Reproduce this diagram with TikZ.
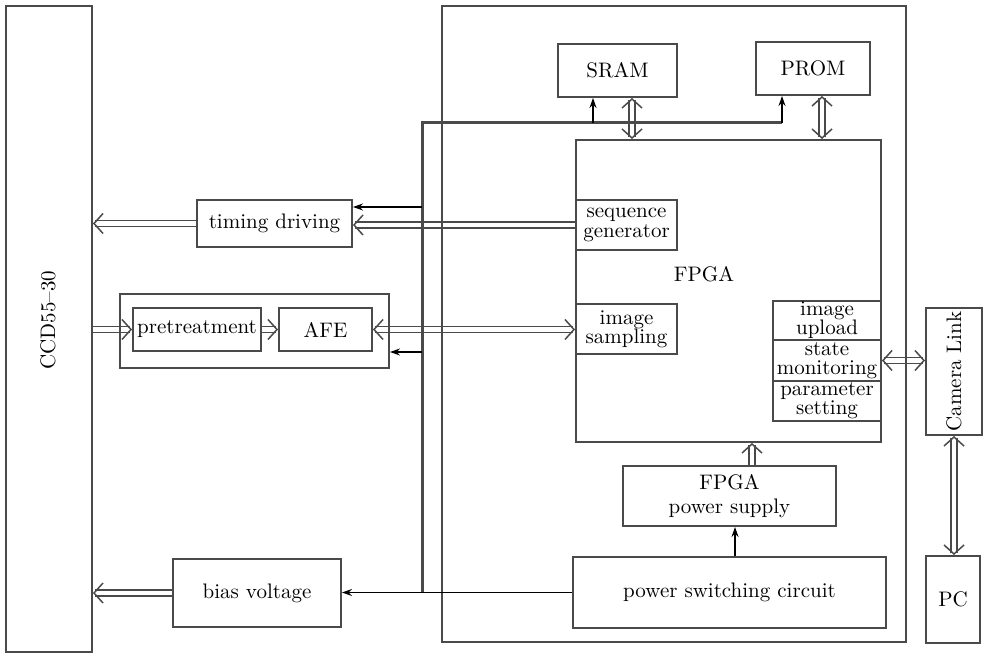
\documentclass[tikz,border=0pt]{standalone}
\usetikzlibrary{positioning, arrows.meta, calc, backgrounds}
\definecolor{linegray}{HTML}{4A4A4A}
\tikzset{blk/.style={draw=linegray,line width=1pt,inner sep=0pt,align=center,font=\fontsize{10.5}{12}\selectfont}}
\tikzset{txt/.style={inner sep=0pt,align=center,font=\fontsize{10.5}{12}\selectfont}}
\tikzset{small/.style={blk,font=\fontsize{10.5}{9.6}\selectfont}}
\tikzset{hd/.tip={Straight Barb[length=4.5pt,width=10pt,line width=0.75pt]}}
\tikzset{hollow/.style={draw=linegray,double=white,double distance=2.4pt,line width=0.75pt,-hd}}
\tikzset{bihollow/.style={hollow,hd-hd}}
\tikzset{sig/.style={draw=black,line width=0.6pt,-{Stealth[length=5pt,width=3.5pt]}}}
\tikzset{bus/.style={draw=linegray,line width=1.5pt}}

\begin{document}
\begin{tikzpicture}[x=0.5pt,y=-0.5pt]
	\useasboundingbox (0,0) rectangle (983,656);
	% Draw the blocks
	\node[blk, minimum width=43pt, minimum height=323pt] (ccd) at (49,329) {};
	\node[txt, rotate=90] (ccdtext) at (48,320) {CCD55--30};
	\node[blk, minimum width=232pt, minimum height=318pt] (board) at (674,324) {};
	\node[blk, minimum width=77.5pt, minimum height=23.5pt] (timing) at (274.5,223.5) {timing driving};
	\node[blk, minimum width=134.5pt, minimum height=37pt] (group) at (254.5,331) {};
	\node[blk, minimum width=64pt, minimum height=21.5pt] (pre) at (197,329.5) {pretreatment};
	\node[blk, minimum width=46.5pt, minimum height=21.5pt] (afe) at (325.5,329.5) {AFE};
	\node[blk, minimum width=84pt, minimum height=34pt] (bias) at (257,593) {bias voltage};
	\node[blk, minimum width=59.5pt, minimum height=26.5pt] (sram) at (617.5,70.5) {SRAM};
	\node[blk, minimum width=57pt, minimum height=26.5pt] (prom) at (813,68.5) {PROM};
	\node[blk, minimum width=152.5pt, minimum height=151pt] (fpga) at (728.5,291) {};
	\node[txt] (fpgatext) at (704,274) {FPGA};
	\node[small, minimum width=50.5pt, minimum height=25pt] (seq) at (626.5,225) {sequence\\generator};
	\node[small, minimum width=50.5pt, minimum height=25pt] (samp) at (626.5,329) {image\\sampling};
	\node[small, minimum width=54pt, minimum height=19.5pt] (upload) at (827,320.5) {image\\upload};
	\node[small, minimum width=54pt, minimum height=20.5pt] (monit) at (827,360.5) {state\\monitoring};
	\node[small, minimum width=54pt, minimum height=20pt] (param) at (827,401) {parameter\\setting};
	\node[blk, minimum width=28pt, minimum height=63.5pt] (cam) at (954,371.5) {};
	\node[txt, rotate=90] (camtext) at (954,371.5) {Camera Link};
	\node[blk, minimum width=27pt, minimum height=43.5pt] (pc) at (953,599.5) {PC};
	\node[blk, minimum width=106.5pt, minimum height=30pt] (fps) at (729.5,496) {FPGA\\power supply};
	\node[blk, minimum width=156.5pt, minimum height=35.5pt] (psw) at (729.5,592.5) {power switching circuit};
	% Draw the control bus
	\coordinate (busT) at (422,123);
	\coordinate (busB) at (422,593);
	\coordinate (busS) at (593,123);
	\coordinate (busR) at (782,123);
	\coordinate (tapA) at (422,207);
	\coordinate (tapB) at (422,352);
	\draw[bus] (busB) -- (busT) -- (busR);
	\draw[sig] (busS) -- (busS |- sram.south);
	\draw[sig] (busR) -- (busR |- prom.south);
	\draw[sig] (tapA) -- (tapA -| timing.east);
	\draw[sig] (tapB) -- (tapB -| group.east);
	\draw[sig] (psw.west) -- (psw.west -| bias.east);
	\draw[sig] ([xshift=2.75pt]psw.north) -- ([xshift=2.75pt]psw.north |- fps.south);
	% Draw the data arrows
	\begin{scope}[on background layer]
	\draw[hollow] (timing.west) -- (timing.west -| ccd.east);
	\draw[hollow] (seq.west) -- (seq.west -| timing.east);
	\draw[hollow] (ccd.east |- pre.west) -- (pre.west);
	\draw[hollow] (pre.east) -- (afe.west);
	\draw[bihollow] (afe.east) -- (afe.east -| samp.west);
	\draw[hollow] (bias.west) -- (bias.west -| ccd.east);
	\draw[bihollow] ([xshift=7.25pt]sram.south) -- ([xshift=7.25pt]sram.south |- fpga.north);
	\draw[bihollow] ([xshift=4.5pt]prom.south) -- ([xshift=4.5pt]prom.south |- fpga.north);
	\draw[hollow] ([xshift=11.25pt]fps.north) -- ([xshift=11.25pt]fps.north |- fpga.south);
	\draw[bihollow] (monit.east) -- (monit.east -| cam.west);
	\draw[bihollow] (cam.south) -- (cam.south |- pc.north);
	\end{scope}
\end{tikzpicture}
\end{document}
